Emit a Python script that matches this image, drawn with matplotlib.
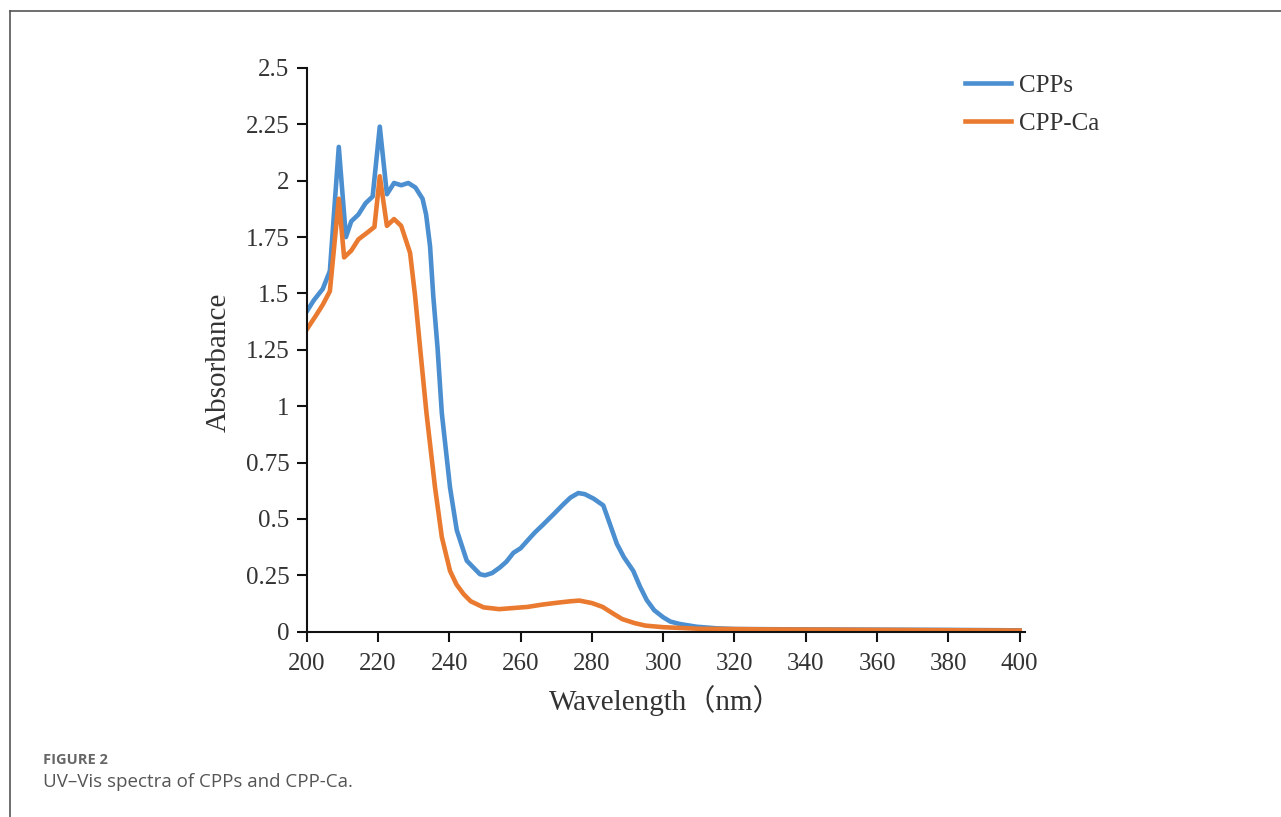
import numpy as np
import matplotlib
matplotlib.use('Agg')
from matplotlib import pyplot as plt
from matplotlib.lines import Line2D

# wavelength (nm) / absorbance
cpps_x = [200, 202, 204.5, 206.5, 209, 211, 212.5, 214.5, 216.5, 218.5, 220.5, 222.5,
          224.5, 226.5, 228.5, 230.5, 232.5, 233.5, 234.6, 235.5, 236.7, 237.9, 240.2,
          242.1, 244.9, 248.6, 250, 252, 254.2, 256, 258, 260, 261.7, 264, 266, 269.2,
          272, 274, 276.2, 278, 280.5, 283.2, 285, 287, 289, 291.6, 293.5, 295.4, 297.5,
          300, 302, 304.7, 309.4, 315, 320, 340, 360, 380, 400]
cpps_y = [1.42, 1.47, 1.52, 1.60, 2.15, 1.75, 1.82, 1.85, 1.90, 1.93, 2.24, 1.94,
          1.99, 1.98, 1.99, 1.97, 1.92, 1.85, 1.71, 1.49, 1.26, 0.97, 0.64,
          0.45, 0.315, 0.255, 0.25, 0.26, 0.285, 0.31, 0.35, 0.37, 0.40, 0.44, 0.47, 0.52,
          0.565, 0.595, 0.615, 0.61, 0.59, 0.56, 0.48, 0.39, 0.33, 0.27, 0.20, 0.14, 0.095,
          0.064, 0.045, 0.034, 0.022, 0.015, 0.012, 0.010, 0.009, 0.008, 0.006]

cppca_x = [200, 202.5, 204.5, 206.5, 209, 210.5, 212.5, 214.5, 217, 219, 220.5, 222.5,
           224.5, 226.5, 229, 230.4, 231.8, 233.6, 236, 237.9, 240.2, 242, 244, 246,
           249.6, 254, 258, 262, 266, 270, 274, 276.5, 280, 283, 286, 288.5, 292, 295,
           300, 310, 330, 360, 400]
cppca_y = [1.34, 1.40, 1.45, 1.51, 1.92, 1.66, 1.69, 1.74, 1.77, 1.795, 2.02, 1.80,
           1.83, 1.80, 1.68, 1.49, 1.26, 0.97, 0.64, 0.42, 0.27, 0.21, 0.167, 0.135,
           0.108, 0.10, 0.105, 0.11, 0.12, 0.128, 0.135, 0.138, 0.127, 0.11, 0.08, 0.056, 0.038, 0.027,
           0.02, 0.013, 0.01, 0.008, 0.005]

x_ticks = [200, 220, 240, 260, 280, 300, 320, 340, 360, 380, 400]
y_ticks = [0, 0.25, 0.5, 0.75, 1, 1.25, 1.5, 1.75, 2, 2.25, 2.5]
y_labels = ['0', '0.25', '0.5', '0.75', '1', '1.25', '1.5', '1.75', '2', '2.25', '2.5']

serif = ['Liberation Serif', 'Noto Sans CJK SC']
blue = '#4b8fd0'
orange = '#e97a2f'

fig = plt.figure(figsize=(12.81, 8.17), dpi=100)
W, H = 1281, 817
ax = fig.add_axes([306.7 / W, 1 - 631.7 / H, (1025 - 306.7) / W, (631.7 - 68) / H])

ax.plot(cpps_x, cpps_y, color=blue, lw=3.3, label='CPPs', solid_joinstyle='round')
ax.plot(cppca_x, cppca_y, color=orange, lw=3.3, label='CPP-Ca', solid_joinstyle='round')

ax.set_xlim(200, 401.5)
ax.set_ylim(0, 2.5)
ax.set_xticks(x_ticks)
ax.set_yticks(y_ticks)
ax.set_yticklabels(y_labels)
for lab in ax.get_xticklabels() + ax.get_yticklabels():
    lab.set_family(serif)
    lab.set_fontsize(18)
    lab.set_color('#333333')
ax.tick_params(direction='out', length=7.5, width=1.5, color='#111111')
ax.tick_params(axis='x', pad=8)
ax.tick_params(axis='y', pad=5)
ax.spines['top'].set_visible(False)
ax.spines['right'].set_visible(False)
for s in ['left', 'bottom']:
    ax.spines[s].set_linewidth(1.5)
    ax.spines[s].set_color('#111111')

ax.set_xlabel('Wavelength（nm）', family=serif, fontsize=21, color='#333333', labelpad=7)
ax.set_ylabel('Absorbance', family=serif, fontsize=21, color='#333333')
ax.yaxis.set_label_coords(-0.104, 0.478)

leg = ax.legend(loc='upper left', bbox_to_anchor=(955 / W, 1 - 64 / H),
                bbox_transform=fig.transFigure, frameon=False,
                prop={'family': serif, 'size': 18}, handlelength=1.85,
                handletextpad=0.3, labelspacing=0.62, borderaxespad=0)
for t in leg.get_texts():
    t.set_color('#333333')

# outer figure frame (left and top edges visible)
fig.add_artist(Line2D([9.5 / W, 9.5 / W], [0, 1 - 10.5 / H], transform=fig.transFigure,
                      color='#555555', lw=1.2))
fig.add_artist(Line2D([9.5 / W, 1], [1 - 10.5 / H, 1 - 10.5 / H], transform=fig.transFigure,
                      color='#555555', lw=1.2))

fig.text(43 / W, 1 - 760 / H, 'FIGURE 2', family='Open Sans', fontweight='bold',
         fontsize=10.5, color='#666666', va='center', ha='left')
fig.text(43 / W, 1 - 782 / H, 'UV\u2013Vis spectra of CPPs and CPP-Ca.', family='Open Sans',
         fontsize=13.5, color='#555555', va='center', ha='left')

fig.savefig('out.png', dpi=100)
